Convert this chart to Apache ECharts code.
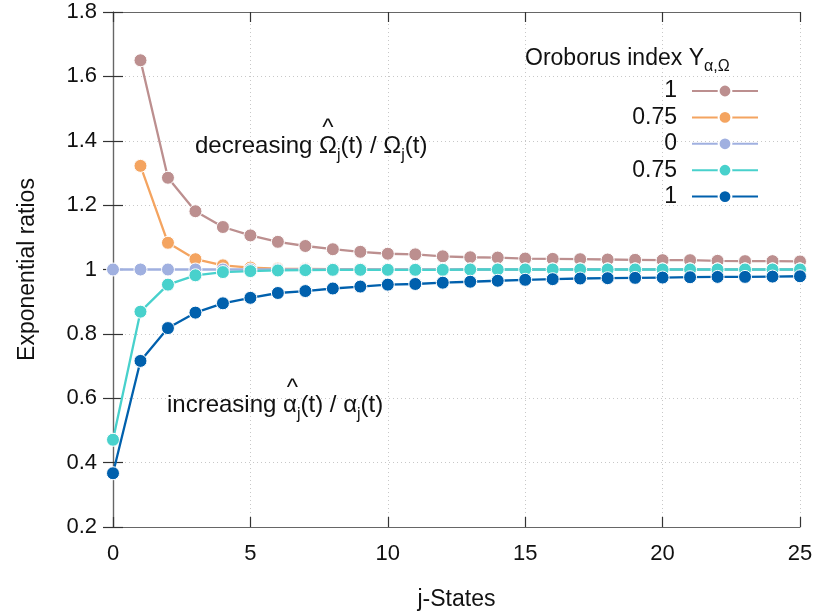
<!DOCTYPE html>
<html>
<head>
<meta charset="utf-8">
<script src="https://cdn.jsdelivr.net/npm/echarts@6/dist/echarts.min.js"></script>
<style>
  html, body { margin: 0; padding: 0; background: #fff; }
  #chart { width: 818px; height: 616px; }
</style>
</head>
<body>
<div id="chart"></div>
<script>
// ---- data ----
const states = [0, 1, 2, 3, 4, 5, 6, 7, 8, 9, 10, 11, 12, 13, 14, 15, 16, 17, 18, 19, 20, 21, 22, 23, 24, 25];
const omegaIdx100 = [null, 1.650, 1.285, 1.181, 1.132, 1.106, 1.086, 1.073, 1.063, 1.055, 1.049, 1.047, 1.041, 1.038, 1.037, 1.034, 1.033, 1.032, 1.031, 1.030, 1.029, 1.029, 1.027, 1.026, 1.026, 1.025];
const omegaIdx075 = [null, 1.322, 1.083, 1.032, 1.013, 1.006, 1.003, 1.002, 1.001, 1.001, 1.000, 1.000, 1.000, 1.000, 1.000, 1.000, 1.000, 1.000, 1.000, 1.000, 1.000, 1.000, 1.000, 1.000, 1.000, 1.000];
const neutralIdx0 = [1, 1, 1, 1, 1, 1, 1, 1, 1, 1, 1, 1, 1, 1, 1, 1, 1, 1, 1, 1, 1, 1, 1, 1, 1, 1];
const alphaIdx075 = [0.471, 0.869, 0.953, 0.982, 0.992, 0.995, 0.997, 0.998, 0.999, 0.999, 0.999, 0.999, 0.999, 1.000, 1.000, 1.000, 1.000, 1.000, 1.000, 1.000, 1.000, 1.000, 1.000, 1.000, 1.000, 1.000];
const alphaIdx100 = [0.367, 0.716, 0.818, 0.866, 0.895, 0.912, 0.927, 0.933, 0.941, 0.947, 0.953, 0.955, 0.959, 0.962, 0.965, 0.968, 0.970, 0.972, 0.973, 0.974, 0.975, 0.976, 0.977, 0.977, 0.978, 0.979];
const seriesNames = ['Ω 1', 'Ω 0.75', '0', 'α 0.75', 'α 1'];
const legendLabels = ['1', '0.75', '0', '0.75', '1'];
const seriesValues = [omegaIdx100, omegaIdx075, neutralIdx0, alphaIdx075, alphaIdx100];
const seriesColors = ['#BC8F8F', '#F4A460', '#A0B0E0', '#48D1CC', '#0060AD'];

const FONT = 'Liberation Sans';
const chart = echarts.init(document.getElementById('chart'), null, { renderer: 'canvas' });

const pairs = (vals) => states.map((s, i) => [s, vals[i]]);

const series = seriesNames.map((name, k) => ({
  name: name,
  type: 'line',
  xAxisIndex: 0,
  yAxisIndex: 0,
  data: pairs(seriesValues[k]),
  symbol: 'circle',
  symbolSize: 13,
  showSymbol: true,
  connectNulls: false,
  animation: false,
  color: seriesColors[k],
  lineStyle: { width: 2.3, color: seriesColors[k] },
  itemStyle: { color: seriesColors[k], borderColor: '#fff', borderWidth: 1 },
  emphasis: { disabled: true },
  z: 2 + k
}));

const axisLineStyle = { show: true, lineStyle: { color: '#666', width: 1.2 } };
const tickStyle = { show: true, inside: true, length: 10, lineStyle: { color: '#333', width: 1.2 } };
const gridLineStyle = { show: true, lineStyle: { color: '#c8c8c8', width: 1, type: [1, 3] } };

const option = {
  backgroundColor: '#fff',
  animation: false,
  grid: { left: 113, right: 18, top: 12, bottom: 84, containLabel: false },
  legend: {
    orient: 'vertical',
    align: 'right',
    right: 59,
    top: 79.5,
    padding: 0,
    itemWidth: 66,
    itemHeight: 16,
    itemGap: 3.4,
    selectedMode: false,
    data: seriesNames,
    formatter: (name) => legendLabels[seriesNames.indexOf(name)],
    textStyle: { fontFamily: FONT, fontSize: 23, color: '#111', padding: [0, 10, 0, 0] }
  },
  xAxis: [
    {
      type: 'value', position: 'bottom', min: 0, max: 25, interval: 5,
      name: 'j-States', nameLocation: 'middle', nameGap: 61,
      nameTextStyle: { fontFamily: FONT, fontSize: 23, color: '#111' },
      axisLine: axisLineStyle, axisTick: tickStyle,
      axisLabel: { fontFamily: FONT, fontSize: 22, color: '#111', margin: 16 },
      splitLine: gridLineStyle
    },
    {
      type: 'value', position: 'top', min: 0, max: 25, interval: 5,
      axisLine: axisLineStyle, axisTick: tickStyle,
      axisLabel: { show: false }, splitLine: { show: false }
    }
  ],
  yAxis: [
    {
      type: 'value', position: 'left', min: 0.2, max: 1.8, interval: 0.2,
      name: 'Exponential ratios', nameLocation: 'middle', nameGap: 74,
      nameTextStyle: { fontFamily: FONT, fontSize: 23, color: '#111' },
      axisLine: axisLineStyle, axisTick: tickStyle,
      axisLabel: { fontFamily: FONT, fontSize: 22, color: '#111', margin: 16,
        formatter: (v) => String(Math.round(v * 10) / 10) },
      splitLine: gridLineStyle
    },
    {
      type: 'value', position: 'right', min: 0.2, max: 1.8, interval: 0.2,
      axisLine: axisLineStyle, axisTick: tickStyle,
      axisLabel: { show: false }, splitLine: { show: false }
    }
  ],
  graphic: [
    {
      type: 'text', x: 525, y: 58.5, z: 100,
      style: {
        text: 'Oroborus index Y{sub|α,Ω}',
        fontFamily: FONT, fontSize: 23, fill: '#111', lineHeight: 40,
        verticalAlign: 'middle', align: 'left',
        rich: { sub: { fontFamily: FONT, fontSize: 16, fill: '#111', lineHeight: 40, padding: [16, 0, 0, 0] } }
      }
    },
    {
      type: 'text', x: 195, y: 146, z: 100,
      style: {
        text: 'decreasing Ω{sub|j}(t) / Ω{sub|j}(t)',
        fontFamily: FONT, fontSize: 24, fill: '#111', lineHeight: 40,
        verticalAlign: 'middle', align: 'left',
        rich: { sub: { fontFamily: FONT, fontSize: 16, fill: '#111', lineHeight: 40, padding: [19, 0, 0, 0] } }
      }
    },
    {
      type: 'text', x: 328, y: 128, z: 100,
      style: { text: '^', fontFamily: FONT, fontSize: 24, fill: '#111', align: 'center', verticalAlign: 'middle' }
    },
    {
      type: 'text', x: 167, y: 405, z: 100,
      style: {
        text: 'increasing α{sub|j}(t) / α{sub|j}(t)',
        fontFamily: FONT, fontSize: 24, fill: '#111', lineHeight: 40,
        verticalAlign: 'middle', align: 'left',
        rich: { sub: { fontFamily: FONT, fontSize: 16, fill: '#111', lineHeight: 40, padding: [19, 0, 0, 0] } }
      }
    },
    {
      type: 'text', x: 292.5, y: 388, z: 100,
      style: { text: '^', fontFamily: FONT, fontSize: 24, fill: '#111', align: 'center', verticalAlign: 'middle' }
    }
  ],
  series: series
};

chart.setOption(option);
</script>
</body>
</html>
